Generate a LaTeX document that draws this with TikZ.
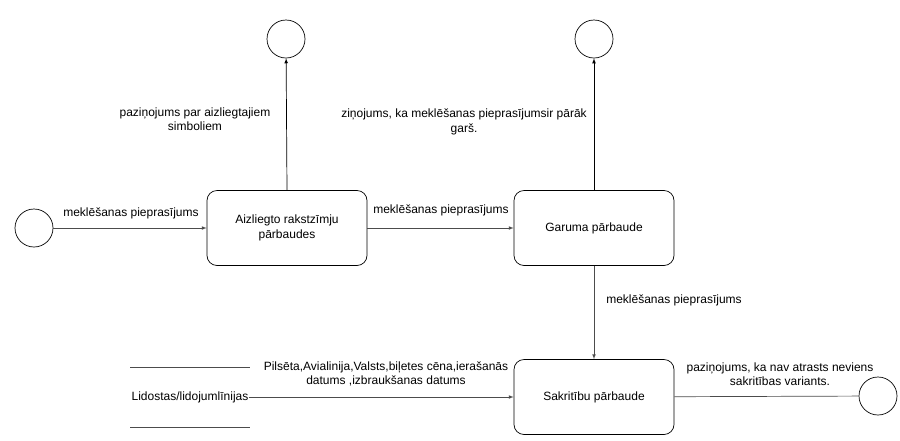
\documentclass[tikz,border=0pt]{standalone}
\usepackage{fontspec}
\setmainfont{Liberation Sans}
\usetikzlibrary{
    arrows,
    positioning
}

\begin{document}
\begin{tikzpicture}[x=1pt, y=-1pt,
        every node/.style={font=\fontsize{12}{14.5}\selectfont},
        proc/.style={draw, rounded corners=10pt, minimum width=160pt, minimum height=75pt, align=center, line width=0.7pt},
        term/.style={draw, circle, minimum size=38pt, inner sep=0pt, line width=0.7pt},
        lbl/.style={align=center, inner sep=0pt},
        flow/.style={-latex, line width=0.7pt},
        plain/.style={line width=0.7pt, draw=black!70}]
    \useasboundingbox (0, 0) rectangle (900, 440);
    % terminals
    \node[term] (start) at (34, 228) {};
    \node[term] (warnA) at (286, 39) {};
    \node[term] (warnB) at (594, 39) {};
    \node[term] (finish) at (878, 396) {};
    % processes
    \node[proc] (forbid) at (287, 228) {Aizliegto rakstzīmju\\pārbaudes};
    \node[proc] (length) at (594, 228) {Garuma pārbaude};
    \node[proc] (match) at (594, 397) {Sakritību pārbaude};
    % data store
    \draw[plain] (130, 367) -- (250, 367);
    \draw[plain] (130, 427) -- (250, 427);
    \node[lbl] (store) at (190, 397) {Lidostas/lidojumlīnijas};
    % flows
    \draw[flow, draw=black!70] (start) -- (forbid);
    \draw[flow] (forbid.north) -- (warnA);
    \draw[flow, draw=black!70] (forbid) -- (length);
    \draw[flow] (length.north) -- (warnB);
    \draw[flow, draw=black!70] (length) -- (match);
    \draw[flow, draw=black!70] (store) -- (match);
    \draw[plain] (match) -- (finish);
    % labels
    \node[lbl] (reqA) at (131, 213) {meklēšanas pieprasījums};
    \node[lbl] (reqB) at (441, 210) {meklēšanas pieprasījums};
    \node[lbl] (reqC) at (674, 300) {meklēšanas pieprasījums};
    \node[lbl] (msgA) at (195, 119) {paziņojums par aizliegtajiem\\simboliem};
    \node[lbl] (msgB) at (464, 122) {ziņojums, ka meklēšanas pieprasījumsir pārāk\\garš.};
    \node[lbl] (msgC) at (780, 374) {paziņojums, ka nav atrasts neviens\\sakritības variants.};
    \node[lbl] (fields) at (386, 374) {Pilsēta,Avialinija,Valsts,biļetes cēna,ierašanās\\datums ,izbraukšanas datums};
\end{tikzpicture}
\end{document}
